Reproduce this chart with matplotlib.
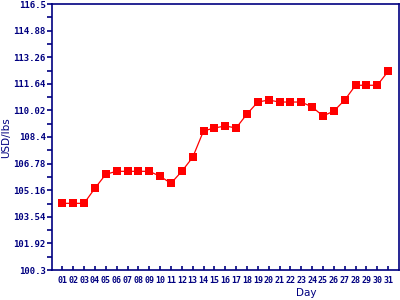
import matplotlib
matplotlib.use("Agg")
import matplotlib.pyplot as plt
import numpy as np

days = list(range(1, 32))
day_labels = ["%02d" % d for d in days]
prices = [104.36, 104.36, 104.36, 105.28, 106.13, 106.31, 106.31, 106.31, 106.31,
          106.01, 105.58, 106.31, 107.16, 108.77, 108.95, 109.07, 108.95, 109.80,
          110.53, 110.65, 110.53, 110.53, 110.53, 110.23, 109.68, 109.98, 110.65,
          111.55, 111.55, 111.55, 112.40]
y_ticks = [100.3, 101.92, 103.54, 105.16, 106.78, 108.4, 110.02, 111.64, 113.26, 114.88, 116.5]
y_tick_labels = ["100.3", "101.92", "103.54", "105.16", "106.78", "108.4",
                 "110.02", "111.64", "113.26", "114.88", "116.5"]

navy = "#000080"
fig = plt.figure(figsize=(4, 3), dpi=100)
ax = fig.add_axes([51.5 / 400, 30 / 300, 347.5 / 400, 266 / 300])
ax.plot(days, prices, color="red", lw=0.9, marker="s", markersize=5.2,
        markeredgewidth=0, markerfacecolor="red")
ax.set_xlim(0, 32)
ax.set_ylim(100.3, 116.5)
ax.set_yticks(y_ticks)
ax.set_yticklabels(y_tick_labels)
minor = [(y_ticks[i] + y_ticks[i + 1]) / 2 for i in range(len(y_ticks) - 1)]
ax.set_yticks(minor, minor=True)
ax.set_xticks(days)
ax.set_xticklabels(day_labels)
for s in ax.spines.values():
    s.set_color(navy)
    s.set_linewidth(1.2)
ax.tick_params(axis="y", which="both", direction="out", length=3.6, width=1.2,
               color=navy, labelcolor=navy, pad=0.7)
ax.tick_params(axis="x", direction="in", length=3.0, width=1.2, color=navy,
               labelcolor=navy, pad=4)
for lab in ax.get_yticklabels():
    lab.set_fontfamily("DejaVu Sans Mono")
    lab.set_fontweight("bold")
    lab.set_fontsize(6.5)
for lab in ax.get_xticklabels():
    lab.set_fontfamily("DejaVu Sans Mono")
    lab.set_fontweight("bold")
    lab.set_fontsize(6.0)
fig.text(6 / 400, 1 - 138 / 300, "USD/lbs", rotation=90, color=navy,
         fontsize=7.5, ha="center", va="center", family="DejaVu Sans")
fig.text(306 / 400, 1 - 293.5 / 300, "Day", color=navy, fontsize=7.5,
         ha="center", va="center", family="DejaVu Sans")
fig.savefig("out.png", dpi=100)
